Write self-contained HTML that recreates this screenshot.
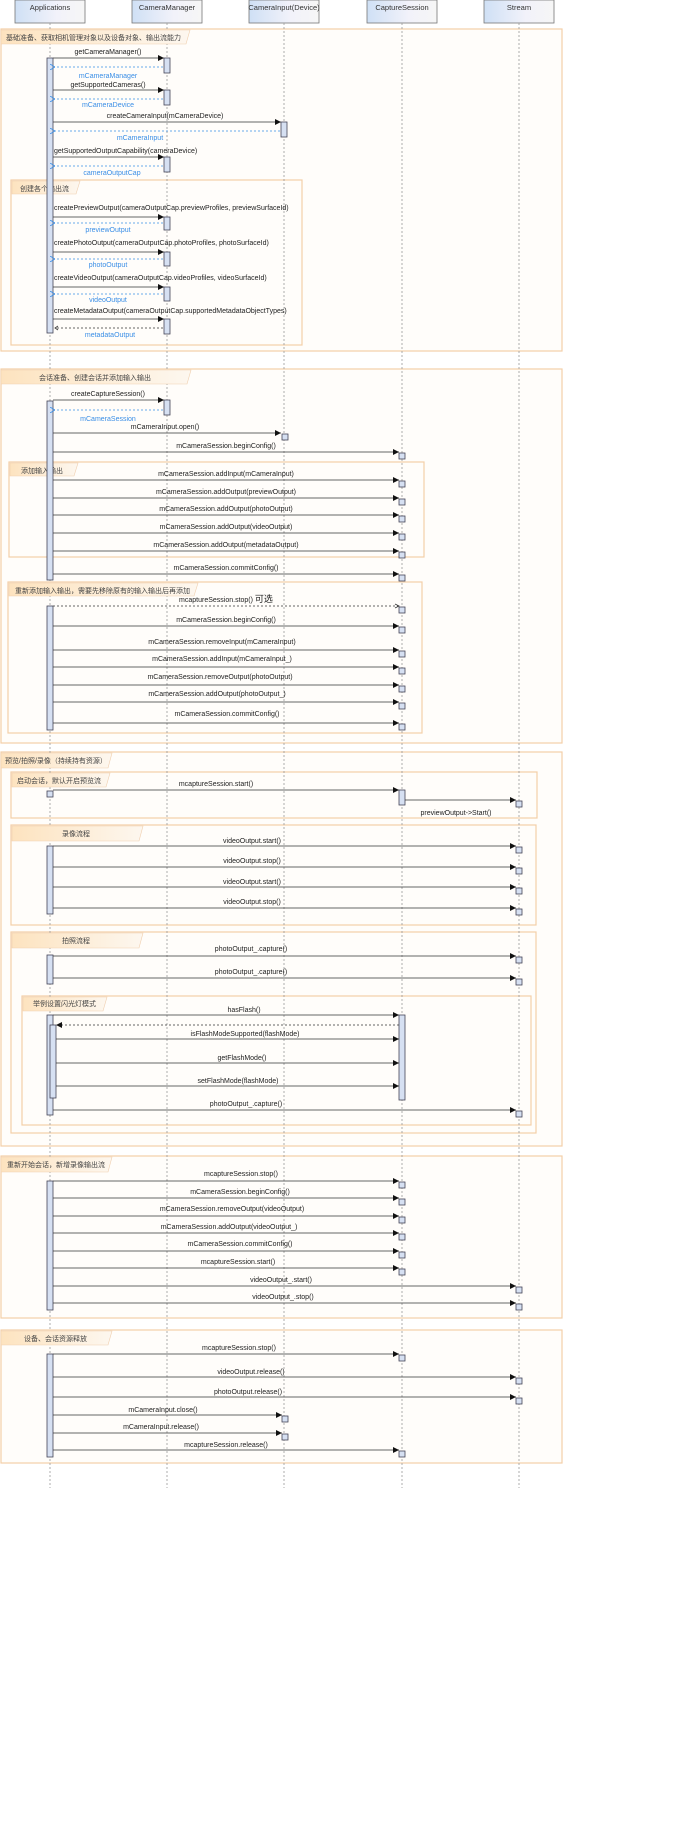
<!DOCTYPE html>
<html><head><meta charset="utf-8"><style>
html,body{margin:0;padding:0;background:#fff}
svg{display:block}
text{font-family:"Liberation Sans","Noto Sans CJK SC",sans-serif;font-size:7px;fill:#222}
.h{font-size:7.5px;fill:#333}
.r{fill:#3a8ee6}
.t{font-size:7px;fill:#444}
.ll{stroke:#999;stroke-width:.8;stroke-dasharray:2,2}
.fr{fill:#fffdfa;stroke:#f3cfa8;stroke-width:1.2}
.tab{fill:url(#tg);stroke:#f0d0b0;stroke-width:.6}
.m{stroke:#333;stroke-width:.8;marker-end:url(#ah)}
.d{stroke:#3a8ee6;stroke-width:.8;stroke-dasharray:2,2;marker-end:url(#ao)}
.dk{stroke:#333;stroke-width:.8;stroke-dasharray:2,2}
.a{fill:#d6e0f2;stroke:#445;stroke-width:.8}
</style></head><body>
<svg width="695" height="1830" viewBox="0 0 695 1830" xmlns="http://www.w3.org/2000/svg">
<defs>
<linearGradient id="hg" x1="0" x2="1"><stop offset="0" stop-color="#cfe0f5"/><stop offset=".6" stop-color="#f2f2fa"/><stop offset="1" stop-color="#f6f6f6"/></linearGradient>
<linearGradient id="tg" x1="0" x2="1"><stop offset="0" stop-color="#fde3bf"/><stop offset="1" stop-color="#fdf7ef"/></linearGradient>
<marker id="ah" markerWidth="6" markerHeight="6" refX="6" refY="3" orient="auto" markerUnits="userSpaceOnUse"><path d="M0,0L6,3L0,6z" fill="#111"/></marker>
<marker id="ao" markerWidth="5" markerHeight="6" refX="0" refY="3" orient="auto" markerUnits="userSpaceOnUse"><path d="M5,0L0,3L5,6" fill="none" stroke="#3a8ee6" stroke-width=".8"/></marker>
</defs>

<g>
<rect x="15" y="0" width="70" height="23" fill="url(#hg)" stroke="#777" stroke-width=".8"/>
<rect x="132" y="0" width="70" height="23" fill="url(#hg)" stroke="#777" stroke-width=".8"/>
<rect x="249" y="0" width="70" height="23" fill="url(#hg)" stroke="#777" stroke-width=".8"/>
<rect x="367" y="0" width="70" height="23" fill="url(#hg)" stroke="#777" stroke-width=".8"/>
<rect x="484" y="0" width="70" height="23" fill="url(#hg)" stroke="#777" stroke-width=".8"/>
<text class="h" x="50" y="10" text-anchor="middle">Applications</text>
<text class="h" x="167" y="10" text-anchor="middle">CameraManager</text>
<text class="h" x="284" y="10" text-anchor="middle">CameraInput(Device)</text>
<text class="h" x="402" y="10" text-anchor="middle">CaptureSession</text>
<text class="h" x="519" y="10" text-anchor="middle">Stream</text>
</g>

<rect class="fr" x="1" y="29" width="561" height="322"/>
<rect class="fr" x="11" y="180" width="291" height="165"/>
<rect class="fr" x="1" y="369" width="561" height="374"/>
<rect class="fr" x="9" y="462" width="415" height="95"/>
<rect class="fr" x="8" y="582" width="414" height="151"/>
<rect class="fr" x="1" y="752" width="561" height="394"/>
<rect class="fr" x="11" y="772" width="526" height="46"/>
<rect class="fr" x="11" y="825" width="525" height="100"/>
<rect class="fr" x="11" y="932" width="525" height="201"/>
<rect class="fr" x="22" y="996" width="509" height="129"/>
<rect class="fr" x="1" y="1156" width="561" height="162"/>
<rect class="fr" x="1" y="1330" width="561" height="133"/>

<line class="ll" x1="50" y1="23" x2="50" y2="1488"/>
<line class="ll" x1="167" y1="23" x2="167" y2="1488"/>
<line class="ll" x1="284" y1="23" x2="284" y2="1488"/>
<line class="ll" x1="402" y1="23" x2="402" y2="1488"/>
<line class="ll" x1="519" y1="23" x2="519" y2="1488"/>

<path class="tab" d="M1,30H190L186,44H1Z"/><text class="t" x="6" y="40">基础准备、获取相机管理对象以及设备对象、输出流能力</text>
<path class="tab" d="M12,181H80L76,194H12Z"/><text class="t" x="20" y="191">创建各个输出流</text>
<path class="tab" d="M1,370H191L187,384H1Z"/><text class="t" x="39" y="380">会话准备、创建会话并添加输入输出</text>
<path class="tab" d="M10,463H78L74,476H10Z"/><text class="t" x="21" y="473">添加输入输出</text>
<path class="tab" d="M9,583H198L194,596H9Z"/><text class="t" x="15" y="593">重新添加输入输出，需要先移除原有的输入输出后再添加</text>
<path class="tab" d="M1,753H112L108,768H1Z"/><text class="t" x="5" y="763">预览/拍照/录像（持续持有资源）</text>
<path class="tab" d="M12,773H110L106,787H12Z"/><text class="t" x="17" y="783">启动会话，默认开启预览流</text>
<path class="tab" d="M12,826H143L139,841H12Z"/><text class="t" x="62" y="836">录像流程</text>
<path class="tab" d="M12,933H143L139,948H12Z"/><text class="t" x="62" y="943">拍照流程</text>
<path class="tab" d="M23,997H107L103,1011H23Z"/><text class="t" x="33" y="1006">举例设置闪光灯模式</text>
<path class="tab" d="M1,1157H112L108,1172H1Z"/><text class="t" x="7" y="1167">重新开始会话，新增录像输出流</text>
<path class="tab" d="M1,1331H112L108,1345H1Z"/><text class="t" x="24" y="1341">设备、会话资源释放</text>

<!-- Section 1 -->
<rect class="a" x="47" y="58" width="6" height="275"/>
<line class="m" x1="53" y1="58" x2="164" y2="58"/><text x="108" y="54" text-anchor="middle">getCameraManager()</text>
<rect class="a" x="164" y="58" width="6" height="15"/>
<line class="d" x1="163" y1="67" x2="55" y2="67"/><text class="r" x="108" y="78" text-anchor="middle">mCameraManager</text>
<line class="m" x1="53" y1="90" x2="164" y2="90"/><text x="108" y="87" text-anchor="middle">getSupportedCameras()</text>
<rect class="a" x="164" y="90" width="6" height="15"/>
<line class="d" x1="163" y1="99" x2="55" y2="99"/><text class="r" x="108" y="107" text-anchor="middle">mCameraDevice</text>
<line class="m" x1="53" y1="122" x2="281" y2="122"/><text x="165" y="118" text-anchor="middle">createCameraInput(mCameraDevice)</text>
<rect class="a" x="281" y="122" width="6" height="15"/>
<line class="d" x1="280" y1="131" x2="55" y2="131"/><text class="r" x="140" y="140" text-anchor="middle">mCameraInput</text>
<line class="m" x1="53" y1="157" x2="164" y2="157"/><text x="54" y="153">getSupportedOutputCapability(cameraDevice)</text>
<rect class="a" x="164" y="157" width="6" height="15"/>
<line class="d" x1="163" y1="166" x2="55" y2="166"/><text class="r" x="112" y="175" text-anchor="middle">cameraOutputCap</text>

<line class="m" x1="53" y1="217" x2="164" y2="217"/><text x="54" y="210">createPreviewOutput(cameraOutputCap.previewProfiles, previewSurfaceId)</text>
<rect class="a" x="164" y="217" width="6" height="13"/>
<line class="d" x1="163" y1="223" x2="55" y2="223"/><text class="r" x="108" y="232" text-anchor="middle">previewOutput</text>
<line class="m" x1="53" y1="252" x2="164" y2="252"/><text x="54" y="245">createPhotoOutput(cameraOutputCap.photoProfiles, photoSurfaceId)</text>
<rect class="a" x="164" y="252" width="6" height="14"/>
<line class="d" x1="163" y1="259" x2="55" y2="259"/><text class="r" x="108" y="267" text-anchor="middle">photoOutput</text>
<line class="m" x1="53" y1="287" x2="164" y2="287"/><text x="54" y="280">createVideoOutput(cameraOutputCap.videoProfiles, videoSurfaceId)</text>
<rect class="a" x="164" y="287" width="6" height="14"/>
<line class="d" x1="163" y1="294" x2="55" y2="294"/><text class="r" x="108" y="302" text-anchor="middle">videoOutput</text>
<line class="m" x1="53" y1="319" x2="164" y2="319"/><text x="54" y="313">createMetadataOutput(cameraOutputCap.supportedMetadataObjectTypes)</text>
<rect class="a" x="164" y="319" width="6" height="15"/>
<line class="dk" x1="163" y1="328" x2="55" y2="328"/><path d="M58,326L55,328L58,330" fill="none" stroke="#333" stroke-width=".8"/>
<text class="r" x="110" y="337" text-anchor="middle">metadataOutput</text>

<!-- Section 2 -->
<rect class="a" x="47" y="401" width="6" height="179"/>
<line class="m" x1="53" y1="400" x2="164" y2="400"/><text x="108" y="396" text-anchor="middle">createCaptureSession()</text>
<rect class="a" x="164" y="400" width="6" height="15"/>
<line class="d" x1="163" y1="410" x2="55" y2="410"/><text class="r" x="108" y="421" text-anchor="middle">mCameraSession</text>
<line class="m" x1="53" y1="433" x2="281" y2="433"/><text x="165" y="429" text-anchor="middle">mCameraInput.open()</text>
<rect class="a" x="282" y="434" width="6" height="6"/>
<line class="m" x1="53" y1="452" x2="399" y2="452"/><text x="226" y="448" text-anchor="middle">mCameraSession.beginConfig()</text>
<rect class="a" x="399" y="453" width="6" height="6"/>
<line class="m" x1="53" y1="480" x2="399" y2="480"/><rect class="a" x="399" y="481" width="6" height="6"/><text x="226" y="476" text-anchor="middle">mCameraSession.addInput(mCameraInput)</text>
<line class="m" x1="53" y1="498" x2="399" y2="498"/><rect class="a" x="399" y="499" width="6" height="6"/><text x="226" y="494" text-anchor="middle">mCameraSession.addOutput(previewOutput)</text>
<line class="m" x1="53" y1="515" x2="399" y2="515"/><rect class="a" x="399" y="516" width="6" height="6"/><text x="226" y="511" text-anchor="middle">mCameraSession.addOutput(photoOutput)</text>
<line class="m" x1="53" y1="533" x2="399" y2="533"/><rect class="a" x="399" y="534" width="6" height="6"/><text x="226" y="529" text-anchor="middle">mCameraSession.addOutput(videoOutput)</text>
<line class="m" x1="53" y1="551" x2="399" y2="551"/><rect class="a" x="399" y="552" width="6" height="6"/><text x="226" y="547" text-anchor="middle">mCameraSession.addOutput(metadataOutput)</text>
<line class="m" x1="53" y1="574" x2="399" y2="574"/><rect class="a" x="399" y="575" width="6" height="6"/><text x="226" y="570" text-anchor="middle">mCameraSession.commitConfig()</text>
<rect class="a" x="47" y="606" width="6" height="124"/>
<line class="dk" x1="53" y1="606" x2="399" y2="606"/><path d="M395,604L399,606L395,608" fill="none" stroke="#333" stroke-width=".8"/>
<rect class="a" x="399" y="607" width="6" height="6"/><text x="226" y="602" text-anchor="middle">mcaptureSession.stop() <tspan font-size="9">可选</tspan></text>
<line class="m" x1="53" y1="626" x2="399" y2="626"/><rect class="a" x="399" y="627" width="6" height="6"/><text x="226" y="622" text-anchor="middle">mCameraSession.beginConfig()</text>
<line class="m" x1="53" y1="650" x2="399" y2="650"/><rect class="a" x="399" y="651" width="6" height="6"/><text x="222" y="644" text-anchor="middle">mCameraSession.removeInput(mCameraInput)</text>
<line class="m" x1="53" y1="667" x2="399" y2="667"/><rect class="a" x="399" y="668" width="6" height="6"/><text x="222" y="661" text-anchor="middle">mCameraSession.addInput(mCameraInput_)</text>
<line class="m" x1="53" y1="685" x2="399" y2="685"/><rect class="a" x="399" y="686" width="6" height="6"/><text x="220" y="679" text-anchor="middle">mCameraSession.removeOutput(photoOutput)</text>
<line class="m" x1="53" y1="702" x2="399" y2="702"/><rect class="a" x="399" y="703" width="6" height="6"/><text x="217" y="696" text-anchor="middle">mCameraSession.addOutput(photoOutput_)</text>
<line class="m" x1="53" y1="723" x2="399" y2="723"/><rect class="a" x="399" y="724" width="6" height="6"/><text x="227" y="716" text-anchor="middle">mCameraSession.commitConfig()</text>

<!-- Section 3 -->
<line class="m" x1="53" y1="790" x2="399" y2="790"/><text x="216" y="786" text-anchor="middle">mcaptureSession.start()</text>
<rect class="a" x="47" y="791" width="6" height="6"/>
<rect class="a" x="399" y="790" width="6" height="15"/>
<line class="m" x1="405" y1="800" x2="516" y2="800"/><rect class="a" x="516" y="801" width="6" height="6"/>
<text x="456" y="815" text-anchor="middle">previewOutput-&gt;Start()</text>

<rect class="a" x="47" y="846" width="6" height="68"/>
<line class="m" x1="53" y1="846" x2="516" y2="846"/><rect class="a" x="516" y="847" width="6" height="6"/><text x="252" y="843" text-anchor="middle">videoOutput.start()</text>
<line class="m" x1="53" y1="867" x2="516" y2="867"/><rect class="a" x="516" y="868" width="6" height="6"/><text x="252" y="863" text-anchor="middle">videoOutput.stop()</text>
<line class="m" x1="53" y1="887" x2="516" y2="887"/><rect class="a" x="516" y="888" width="6" height="6"/><text x="252" y="884" text-anchor="middle">videoOutput.start()</text>
<line class="m" x1="53" y1="908" x2="516" y2="908"/><rect class="a" x="516" y="909" width="6" height="6"/><text x="252" y="904" text-anchor="middle">videoOutput.stop()</text>

<rect class="a" x="47" y="955" width="6" height="29"/>
<line class="m" x1="53" y1="956" x2="516" y2="956"/><rect class="a" x="516" y="957" width="6" height="6"/><text x="251" y="951" text-anchor="middle">photoOutput_.capture()</text>
<line class="m" x1="53" y1="978" x2="516" y2="978"/><rect class="a" x="516" y="979" width="6" height="6"/><text x="251" y="974" text-anchor="middle">photoOutput_.capture()</text>

<rect class="a" x="47" y="1015" width="6" height="100"/>
<rect class="a" x="50" y="1025" width="6" height="73"/>
<line class="m" x1="53" y1="1015" x2="399" y2="1015"/><text x="244" y="1012" text-anchor="middle">hasFlash()</text>
<rect class="a" x="399" y="1015" width="6" height="85"/>
<line class="dk" x1="399" y1="1025" x2="58" y2="1025"/><path d="M62,1022L56,1025L62,1028z" fill="#111"/>
<line class="m" x1="56" y1="1039" x2="399" y2="1039"/><text x="245" y="1036" text-anchor="middle">isFlashModeSupported(flashMode)</text>
<line class="m" x1="56" y1="1063" x2="399" y2="1063"/><text x="242" y="1060" text-anchor="middle">getFlashMode()</text>
<line class="m" x1="56" y1="1086" x2="399" y2="1086"/><text x="238" y="1083" text-anchor="middle">setFlashMode(flashMode)</text>
<line class="m" x1="53" y1="1110" x2="516" y2="1110"/><rect class="a" x="516" y="1111" width="6" height="6"/><text x="246" y="1106" text-anchor="middle">photoOutput_.capture()</text>

<!-- Section 4 -->
<rect class="a" x="47" y="1181" width="6" height="129"/>
<line class="m" x1="53" y1="1181" x2="399" y2="1181"/><rect class="a" x="399" y="1182" width="6" height="6"/><text x="241" y="1176" text-anchor="middle">mcaptureSession.stop()</text>
<line class="m" x1="53" y1="1198" x2="399" y2="1198"/><rect class="a" x="399" y="1199" width="6" height="6"/><text x="240" y="1194" text-anchor="middle">mCameraSession.beginConfig()</text>
<line class="m" x1="53" y1="1216" x2="399" y2="1216"/><rect class="a" x="399" y="1217" width="6" height="6"/><text x="232" y="1211" text-anchor="middle">mCameraSession.removeOutput(videoOutput)</text>
<line class="m" x1="53" y1="1233" x2="399" y2="1233"/><rect class="a" x="399" y="1234" width="6" height="6"/><text x="229" y="1229" text-anchor="middle">mCameraSession.addOutput(videoOutput_)</text>
<line class="m" x1="53" y1="1251" x2="399" y2="1251"/><rect class="a" x="399" y="1252" width="6" height="6"/><text x="240" y="1246" text-anchor="middle">mCameraSession.commitConfig()</text>
<line class="m" x1="53" y1="1268" x2="399" y2="1268"/><rect class="a" x="399" y="1269" width="6" height="6"/><text x="238" y="1264" text-anchor="middle">mcaptureSession.start()</text>
<line class="m" x1="53" y1="1286" x2="516" y2="1286"/><rect class="a" x="516" y="1287" width="6" height="6"/><text x="281" y="1282" text-anchor="middle">videoOutput_.start()</text>
<line class="m" x1="53" y1="1303" x2="516" y2="1303"/><rect class="a" x="516" y="1304" width="6" height="6"/><text x="283" y="1299" text-anchor="middle">videoOutput_.stop()</text>

<!-- Section 5 -->
<rect class="a" x="47" y="1354" width="6" height="103"/>
<line class="m" x1="53" y1="1354" x2="399" y2="1354"/><rect class="a" x="399" y="1355" width="6" height="6"/><text x="239" y="1350" text-anchor="middle">mcaptureSession.stop()</text>
<line class="m" x1="53" y1="1377" x2="516" y2="1377"/><rect class="a" x="516" y="1378" width="6" height="6"/><text x="251" y="1374" text-anchor="middle">videoOutput.release()</text>
<line class="m" x1="53" y1="1397" x2="516" y2="1397"/><rect class="a" x="516" y="1398" width="6" height="6"/><text x="248" y="1394" text-anchor="middle">photoOutput.release()</text>
<line class="m" x1="53" y1="1415" x2="282" y2="1415"/><rect class="a" x="282" y="1416" width="6" height="6"/><text x="163" y="1412" text-anchor="middle">mCameraInput.close()</text>
<line class="m" x1="53" y1="1433" x2="282" y2="1433"/><rect class="a" x="282" y="1434" width="6" height="6"/><text x="161" y="1429" text-anchor="middle">mCameraInput.release()</text>
<line class="m" x1="53" y1="1450" x2="399" y2="1450"/><rect class="a" x="399" y="1451" width="6" height="6"/><text x="226" y="1447" text-anchor="middle">mcaptureSession.release()</text>
</svg>
</body></html>
